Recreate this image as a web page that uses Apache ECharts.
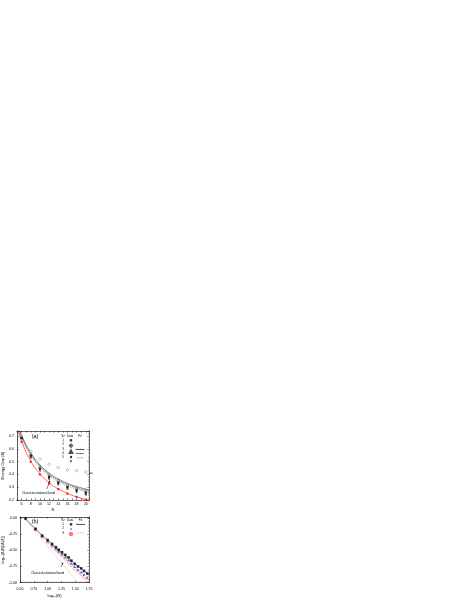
<!DOCTYPE html>
<html><head><meta charset="utf-8">
<script src="https://cdn.jsdelivr.net/npm/echarts@6/dist/echarts.min.js"></script>
<style>html,body{margin:0;padding:0;background:#fff}#c{width:463px;height:599px}</style>
</head><body><div id="c"></div>
<script>
// ---------- Panel (a) data ----------
const nA = [6, 8, 10, 12, 14, 16, 18, 20];
const gapSz1 = [0.690, 0.550, 0.450, 0.385, 0.340, 0.305, 0.280, 0.260];
const gapSz2 = [null, 0.580, 0.520, 0.480, 0.455, 0.435, 0.430, 0.420];
const gapSz3 = [0.700, 0.565, 0.465, 0.400, 0.355, 0.320, 0.295, 0.275];
const gapSz4 = [0.685, 0.540, 0.440, 0.375, 0.330, 0.295, 0.270, 0.250];
const gapSz5 = [0.680, 0.530, 0.430, 0.365, 0.320, 0.285, 0.260, 0.240];
const gapClassical = [0.655, 0.500, 0.400, 0.330, 0.285, 0.250, 0.225, 0.200];
const fitN = [5.2, 6, 8, 10, 12, 14, 16, 18, 20, 20.7];
const fitSz3 = [0.785, 0.705, 0.570, 0.475, 0.410, 0.365, 0.330, 0.305, 0.285, 0.278];
const fitSz4 = [0.775, 0.695, 0.560, 0.465, 0.400, 0.355, 0.320, 0.295, 0.275, 0.268];
const fitSz5 = [0.765, 0.685, 0.550, 0.455, 0.390, 0.345, 0.310, 0.285, 0.265, 0.258];
const fitClassical = [0.750, 0.660, 0.505, 0.405, 0.335, 0.287, 0.252, 0.225, 0.205, 0.198];
const blueMarkA = [[21.1, 0.41]];
const legendRowsA = ['1', '2', '3', '4', '5'];
const legendHeadA = ['Sz', 'Data', 'Fit'];

// ---------- Panel (b) data ----------
const logNB = [0.60, 0.78, 0.90, 1.00, 1.08, 1.15, 1.20, 1.26, 1.32, 1.38, 1.43, 1.49, 1.55, 1.61, 1.66, 1.72];
const logGapB1 = [0.000, -0.165, -0.270, -0.340, -0.400, -0.450, -0.490, -0.530, -0.570, -0.610, -0.660, -0.710, -0.750, -0.780, -0.820, -0.860];
const logGapB2 = [0.000, -0.170, -0.280, -0.355, -0.420, -0.470, -0.515, -0.560, -0.605, -0.650, -0.700, -0.755, -0.800, -0.835, -0.875, -0.920];
const logGapB3 = [-0.005, -0.175, -0.290, -0.370, -0.435, -0.490, -0.535, -0.585, -0.630, -0.680, -0.730, -0.785, -0.830, -0.870, -0.915, -0.965];
const fitB1X = [0.55, 0.75, 1.00, 1.25, 1.50, 1.75];
const fitB1Y = [0.040, -0.140, -0.340, -0.530, -0.710, -0.880];
const fitB3X = [0.60, 1.00, 1.25, 1.50, 1.75];
const fitB3Y = [0.000, -0.370, -0.580, -0.790, -1.000];
const classicalBX = [0.58, 1.55];
const classicalBY = [0.000, -1.000];
const legendRowsB = ['1', '2', '3'];
const legendHeadB = ['Sz', 'Data', 'Fit'];

const annotText = 'Classical-rotational band';
const FONT = 'Liberation Sans, Arial, sans-serif';

function zip(xs, ys) { return xs.map((x, i) => [x, ys[i]]); }

const chart = echarts.init(document.getElementById('c'), null, {renderer: 'canvas'});

const lab = {fontSize: 3.6, color: '#000', fontFamily: FONT};
function frameAxis(extra) {
  return Object.assign({
    axisLine: {show: true, onZero: false, lineStyle: {color: '#000', width: 0.6}},
    axisTick: {show: true, inside: true, length: 1.6, lineStyle: {color: '#000', width: 0.5}},
    minorTick: {show: true, splitNumber: 5, length: 0.9, lineStyle: {color: '#000', width: 0.4}},
    splitLine: {show: false},
  }, extra);
}

const xAxes = [
  frameAxis({gridIndex: 0, type: 'value', position: 'bottom', min: 5, max: 20.7, interval: 1,
    minorTick: {show: false},
    axisLabel: Object.assign({margin: 2.2, formatter: v => (Math.abs(v % 2) < 1e-6 ? String(v) : '')}, lab),
    name: 'N', nameLocation: 'middle', nameGap: 8, nameTextStyle: {fontSize: 4, fontFamily: FONT, color: '#000'}}),
  frameAxis({gridIndex: 0, type: 'value', position: 'top', min: 5, max: 20.7, interval: 1,
    minorTick: {show: false}, axisLabel: {show: false}}),
  frameAxis({gridIndex: 1, type: 'value', position: 'bottom', min: 0.5, max: 1.75, interval: 0.25,
    axisLabel: Object.assign({margin: 4, formatter: v => v.toFixed(2)}, lab),
    name: 'log\u2081\u2080(N)', nameLocation: 'middle', nameGap: 11.5, nameTextStyle: {fontSize: 4, fontFamily: FONT, color: '#000'}}),
  frameAxis({gridIndex: 1, type: 'value', position: 'top', min: 0.5, max: 1.75, interval: 0.25, axisLabel: {show: false}}),
];
const yAxes = [
  frameAxis({gridIndex: 0, type: 'value', position: 'left', min: 0.2, max: 0.74, interval: 0.1,
    axisLabel: Object.assign({margin: 3, formatter: v => (Math.abs(v * 10 - Math.round(v * 10)) < 1e-6 ? v.toFixed(1) : '')}, lab),
    name: 'Energy Gap (\u0394)', nameLocation: 'middle', nameGap: 12, nameRotate: 90,
    nameTextStyle: {fontSize: 4, fontFamily: FONT, color: '#000'}}),
  frameAxis({gridIndex: 0, type: 'value', position: 'right', min: 0.2, max: 0.74, interval: 0.1, axisLabel: {show: false}}),
  frameAxis({gridIndex: 1, type: 'value', position: 'left', min: -1, max: 0.02, interval: 0.25,
    axisLabel: Object.assign({margin: 3, formatter: v => (Math.abs(v * 4 - Math.round(v * 4)) < 1e-6 ? v.toFixed(2) : '')}, lab),
    name: 'log\u2081\u2080[\u0394(N)/\u0394(4)]', nameLocation: 'middle', nameGap: 12.5, nameRotate: 90,
    nameTextStyle: {fontSize: 4, fontFamily: FONT, color: '#000'}}),
  frameAxis({gridIndex: 1, type: 'value', position: 'right', min: -1, max: 0.02, interval: 0.25, axisLabel: {show: false}}),
];

const xPath = 'path://M2,0L5,3L8,0L10,2L7,5L10,8L8,10L5,7L2,10L0,8L3,5L0,2Z';
const dashIcon = 'path://M0,0h3v1h-3zM4,0h3v1h-3zM8,0h2v1h-2z';
const dotIcon = 'path://M0,0h1v1h-1zM2,0h1v1h-1zM4,0h1v1h-1zM6,0h1v1h-1zM8,0h1v1h-1z';

function sc(name, xi, yi, data, symbol, size, style) {
  return {name, type: 'scatter', xAxisIndex: xi, yAxisIndex: yi, data, symbol, symbolSize: size,
    itemStyle: style, z: 4, silent: true};
}
function ln(name, xi, yi, data, color, type, width) {
  return {name, type: 'line', xAxisIndex: xi, yAxisIndex: yi, data, symbol: 'none', smooth: 0.5,
    lineStyle: {color, type, width: width || 0.6}, itemStyle: {color}, z: 3, silent: true};
}

const series = [
  ln('fitClassA', 0, 0, zip(fitN, fitClassical), '#ff0000', 'solid', 0.6),
  ln('Sz3 fit', 0, 0, zip(fitN, fitSz3), '#000', 'solid', 0.5),
  ln('Sz4 fit', 0, 0, zip(fitN, fitSz4), '#000', [1.6, 0.8], 0.5),
  ln('Sz5 fit', 0, 0, zip(fitN, fitSz5), '#555', [0.6, 0.6], 0.5),
  sc('Sz1', 0, 0, zip(nA, gapSz1), 'rect', 2.2, {color: '#000'}),
  sc('Sz2', 0, 0, zip(nA, gapSz2).filter(p => p[1] != null), 'diamond', 3.0, {color: '#fff', borderColor: '#444', borderWidth: 0.45}),
  sc('Sz3', 0, 0, zip(nA, gapSz3), 'triangle', 2.5, {color: '#fff', borderColor: '#222', borderWidth: 0.45}),
  sc('Sz4', 0, 0, zip(nA, gapSz4), 'circle', 2.2, {color: '#000'}),
  sc('Sz5', 0, 0, zip(nA, gapSz5), xPath, 2.2, {color: '#222'}),
  sc('classA', 0, 0, zip(nA, gapClassical), 'rect', 2.2, {color: '#ff0000'}),
  Object.assign(sc('blueA', 0, 0, blueMarkA, 'rect', [3.5, 1], {color: '#0000ff'}), {clip: false}),

  ln('classB', 2, 2, zip(classicalBX, classicalBY), '#888', [0.6, 0.6], 0.5),
  ln('B1 fit', 2, 2, zip(fitB1X, fitB1Y), '#000', 'solid', 0.5),
  ln('B3 fit', 2, 2, zip(fitB3X, fitB3Y), '#ff3333', [0.7, 0.7], 0.5),
  sc('B3', 2, 2, zip(logNB, logGapB3), 'circle', 3.0, {color: '#fff', borderColor: '#ff5555', borderWidth: 0.5}),
  sc('B2', 2, 2, zip(logNB, logGapB2), 'triangle', 2.7, {color: '#2244ff'}),
  sc('B1', 2, 2, zip(logNB, logGapB1), 'rect', 2.6, {color: '#000'}),
];

function leg(data, left, top, w, h, gap) {
  return {data, left, top, orient: 'vertical', itemWidth: w, itemHeight: h, itemGap: gap, padding: 0,
    selectedMode: false, formatter: () => '', textStyle: {fontSize: 1}, inactiveColor: '#000'};
}

chart.setOption({
  animation: false,
  grid: [
    {left: 17, top: 431, width: 72, height: 69},
    {left: 17, top: 517, width: 72, height: 66},
  ],
  xAxis: xAxes,
  yAxis: yAxes,
  legend: [
    leg(['Sz1', 'Sz2', 'Sz3', 'Sz4', 'Sz5'], 68.8, 439.1, 2.4, 2.4, 1.85),
    leg([{name: 'Sz3 fit', icon: 'rect'}, {name: 'Sz4 fit', icon: dashIcon}, {name: 'Sz5 fit', icon: dotIcon}],
      75.5, 448.95, 9, 0.7, 3.55),
    leg(['B1', 'B2', 'B3'], 68.8, 523.1, 2.4, 2.4, 1.95),
    leg([{name: 'B1 fit', icon: 'rect'}, {name: 'B3 fit', icon: dotIcon}], 76, 523.95, 9, 0.7, 8),
  ],
  series,
});

// annotations and legend table text
function P(g, x, y) { return chart.convertToPixel({gridIndex: g}, [x, y]); }
function arrow(g, tail, head, color) {
  const a = P(g, tail[0], tail[1]), b = P(g, head[0], head[1]);
  const dx = b[0] - a[0], dy = b[1] - a[1], L = Math.hypot(dx, dy), ux = dx / L, uy = dy / L;
  const hl = 1.8, hw = 0.9;
  const base = [b[0] - ux * hl, b[1] - uy * hl];
  return [
    {type: 'line', shape: {x1: a[0], y1: a[1], x2: base[0], y2: base[1]}, style: {stroke: color, lineWidth: 0.5}, z: 10},
    {type: 'polygon', shape: {points: [b, [base[0] - uy * hw, base[1] + ux * hw], [base[0] + uy * hw, base[1] - ux * hw]]},
      style: {fill: color}, z: 10},
  ];
}
function txt(x, y, s, size, align) {
  return {type: 'text', x, y, style: {text: s, fontSize: size, fontFamily: FONT, fill: '#000',
    align: align || 'center', verticalAlign: 'middle'}, z: 10};
}
const g = [];
const ta = P(0, 9.7, 0.255);
g.push(txt(ta[0], ta[1], annotText, 3, 'center'));
g.push(...arrow(0, [11.5, 0.285], [12.2, 0.355], '#000'));
const tb = P(1, 1.0, -0.86);
g.push(txt(tb[0], tb[1], annotText, 3, 'center'));
g.push(...arrow(1, [1.24, -0.76], [1.28, -0.69], '#000'));
g.push(txt(35, 436.5, '(a)', 5.5));
g.push(txt(35, 521, '(b)', 5.5));
[[63, legendHeadA[0]], [70, legendHeadA[1]], [80, legendHeadA[2]]].forEach(([x, s]) => g.push(txt(x, 436.5, s, 3)));
legendRowsA.forEach((s, i) => g.push(txt(63, 440.3 + i * 4.25, s, 3)));
[[63, legendHeadB[0]], [70, legendHeadB[1]], [80.5, legendHeadB[2]]].forEach(([x, s]) => g.push(txt(x, 520, s, 3)));
legendRowsB.forEach((s, i) => g.push(txt(63, 524.3 + i * 4.35, s, 3)));
chart.setOption({graphic: g});
</script></body></html>
